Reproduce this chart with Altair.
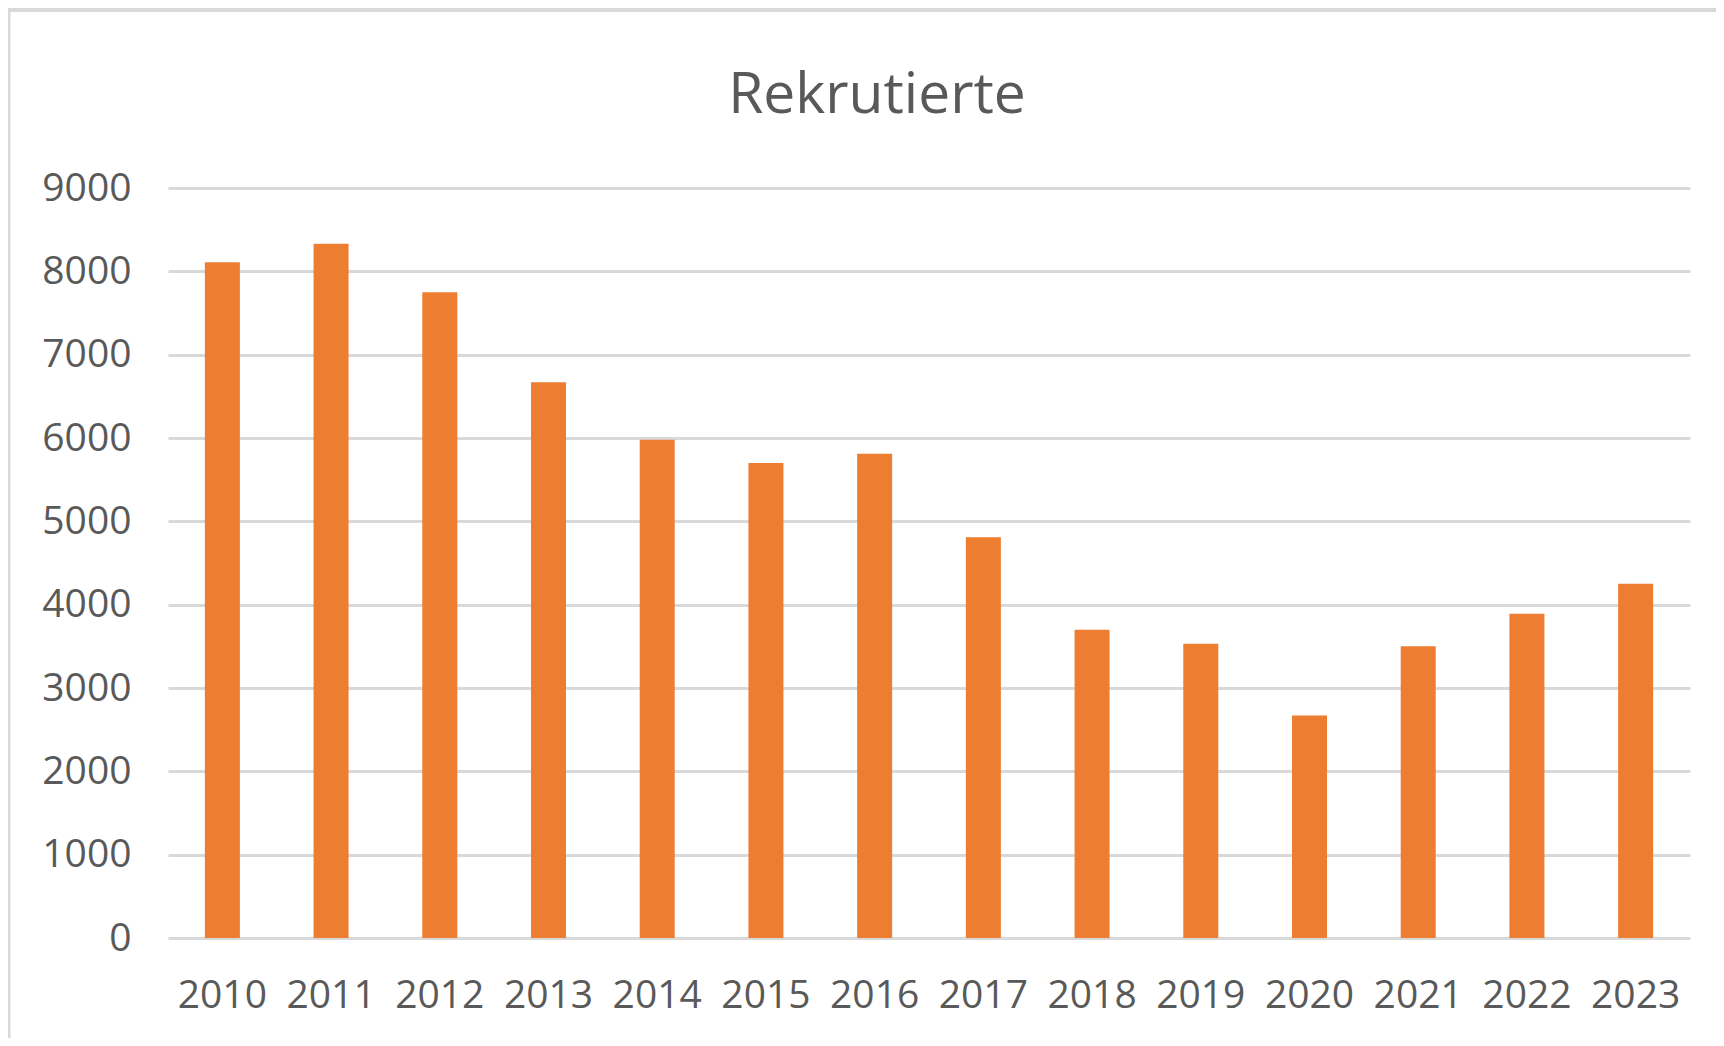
import altair as alt
import pandas as pd

years = ["2010", "2011", "2012", "2013", "2014", "2015", "2016",
         "2017", "2018", "2019", "2020", "2021", "2022", "2023"]
rekrutierte = [8110, 8330, 7750, 6670, 5980, 5700, 5810,
               4810, 3700, 3530, 2670, 3500, 3890, 4250]
y_ticks = [0, 1000, 2000, 3000, 4000, 5000, 6000, 7000, 8000, 9000]

df = pd.DataFrame({"Jahr": years, "Rekrutierte": rekrutierte})

FONT = "Open Sans"
GREY = "#595959"

bars = alt.Chart(df).mark_bar(color="#ED7D31").encode(
    x=alt.X("Jahr:N", sort=years, title=None,
            scale=alt.Scale(paddingInner=0.678, paddingOuter=0.339),
            axis=alt.Axis(labelAngle=0, ticks=False, domain=False,
                          labelFont=FONT, labelFontSize=39, labelColor=GREY,
                          labelPadding=38, grid=False)),
    y=alt.Y("Rekrutierte:Q", title=None,
            scale=alt.Scale(domain=[0, 9000], nice=False),
            axis=alt.Axis(values=y_ticks, ticks=False, domain=False,
                          labelFont=FONT, labelFontSize=39, labelColor=GREY,
                          labelPadding=37, grid=True, gridColor="#d9d9d9",
                          gridWidth=3, format="d")),
)

frame_df = pd.DataFrame({"k": [0]})
top_line = alt.Chart(frame_df).mark_rule(color="#d9d9d9", strokeWidth=4).encode(
    x=alt.value(-160), x2=alt.value(1560), y=alt.value(-178))
left_line = alt.Chart(frame_df).mark_rule(color="#d9d9d9", strokeWidth=3).encode(
    x=alt.value(-159), y=alt.value(-180), y2=alt.value(860))

chart = alt.layer(bars, top_line, left_line).properties(
    width=1522, height=750,
    title=alt.TitleParams("Rekrutierte", font=FONT, fontSize=57,
                          fontWeight="normal", color=GREY, anchor="middle",
                          frame="group", baseline="alphabetic", offset=-163, dx=-52),
    autosize=alt.AutoSizeParams(type="none"),
    padding={"left": 160, "top": 180, "right": 26, "bottom": 100},
    background="white",
).configure_view(stroke=None)

chart.save("out.html", embed_options={"renderer": "svg", "actions": False})
